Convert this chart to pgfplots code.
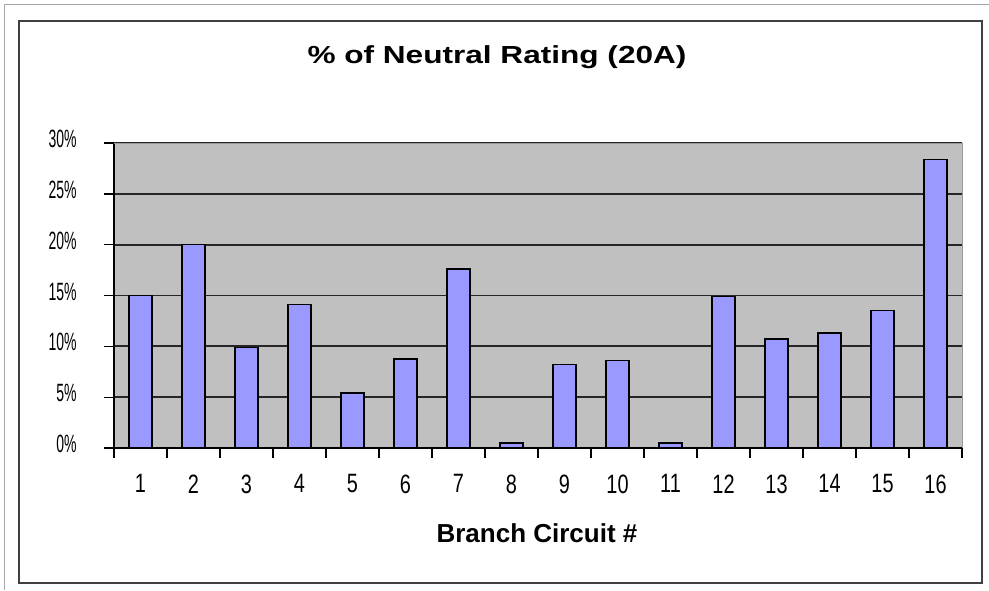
\documentclass[border=0pt]{standalone}
\usepackage{pgfplots}
\pgfplotsset{compat=1.18}
\usepackage{fontspec}
\setmainfont{Liberation Sans}
\definecolor{plotbg}{HTML}{C0C0C0}
\definecolor{barfill}{HTML}{9999FF}
\definecolor{framegray}{HTML}{404040}
\begin{document}
\begin{tikzpicture}
\useasboundingbox (0,0) rectangle (741.75pt,442.5pt);
\draw[gray!70, line width=0.75pt] (3pt,0) -- (3pt,438.75pt) -- (741.75pt,438.75pt);
\draw[framegray, line width=1.5pt] (13.9pt,5.25pt) rectangle (736.5pt,427.1pt);
\begin{axis}[
  at={(85.5pt,106.5pt)}, anchor=south west,
  width=636pt, height=228.75pt, scale only axis,
  xmin=0.5, xmax=16.5, ymin=0, ymax=30,
  /pgf/number format/assume math mode=true,
  axis background/.style={fill=plotbg, draw=gray!80},
  axis x line*=bottom, axis y line*=left,
  axis line style={black, line width=1.2pt, -},
  tick align=outside,
  xtick={1,...,16},
  major x tick style={draw=none},
  minor xtick={0.5,1.5,...,16.5},
  minor tick length=7.5pt,
  minor x tick style={black, line width=1pt},
  ytick={0,5,...,30},
  major tick length=7.5pt,
  major y tick style={black, line width=1pt},
  ymajorgrids,
  major grid style={black!85, line width=1.3pt},
  xticklabel={\scalebox{0.75}[1]{\fontsize{19.9}{22}\selectfont\pgfmathprintnumber{\tick}}},
  yticklabel={\scalebox{0.56}[1]{\fontsize{18.75}{20}\selectfont\pgfmathprintnumber{\tick}\%}},
  xticklabel style={yshift=-9pt},
  yticklabel style={anchor=east, xshift=-17pt, yshift=3pt},
]
\addplot[ybar, bar width=17.25pt, fill=barfill, draw=black, line width=1.1pt]
  coordinates {(1,15.0) (2,20.0) (3,9.9) (4,14.1) (5,5.4) (6,8.75) (7,17.6) (8,0.5)
               (9,8.2) (10,8.6) (11,0.5) (12,14.9) (13,10.7) (14,11.3) (15,13.5) (16,28.4)};
\draw[gray!80, line width=1.2pt] (rel axis cs:0,1) -- (rel axis cs:1,1);
\end{axis}
\node[anchor=base, font=\bfseries\fontsize{18.5}{20}\selectfont] at (372.75pt,394.5pt)
  {\scalebox{1.28}[1]{\% of Neutral Rating (20A)}};
\node[anchor=base, font=\bfseries\fontsize{19.5}{22}\selectfont] at (402.75pt,36pt)
  {Branch Circuit \#};
\end{tikzpicture}
\end{document}
